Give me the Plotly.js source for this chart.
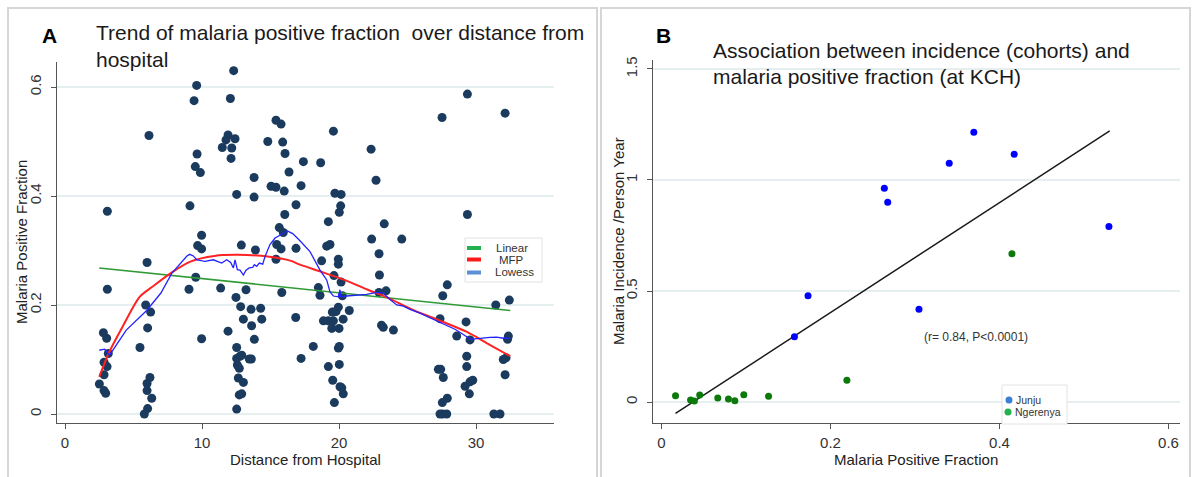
<!DOCTYPE html>
<html>
<head>
<meta charset="utf-8">
<script src="https://cdn.plot.ly/plotly-3.0.1.min.js"></script>
<style>
  html, body { margin: 0; padding: 0; background: #ffffff; }
  #chart { width: 1192px; height: 477px; }
</style>
</head>
<body>
<div id="chart"></div>
<script>
// ---------- Panel A data: malaria positive fraction vs distance ----------
const distanceKm = [
  3.09,3.09,2.80,3.04,3.16,2.85,3.07,2.85,2.51,2.85,2.97,
  6.13,5.99,5.89,6.25,6.03,5.47,6.20,5.99,5.99,6.33,6.03,5.79,
  9.61,9.42,9.64,9.51,9.88,9.12,9.97,9.68,9.97,9.54,9.05,9.97,
  12.31,12.07,11.90,11.75,12.41,11.48,12.17,12.12,13.80,12.53,13.80,12.87,13.90,11.36,13.21,12.48,12.82,13.58,14.28,13.02,
  14.36,13.62,11.90,13.82,12.53,12.77,12.53,12.90,13.45,12.58,12.72,12.65,13.02,12.72,12.90,12.53,13.60,
  15.40,15.77,14.80,15.89,16.06,16.35,15.04,15.40,16.00,16.86,16.04,15.64,15.93,15.45,15.77,16.86,15.40,15.82,16.84,17.23,17.40,17.23,
  18.66,19.59,19.70,20.15,20.12,20.02,19.22,19.10,19.34,19.95,19.95,18.73,19.63,20.15,18.49,18.61,20.24,19.95,20.75,19.51,
  19.78,18.86,19.22,19.59,20.30,19.47,20.00,18.12,19.95,20.02,19.22,20.02,19.54,20.07,20.20,20.31,19.66,
  22.34,22.70,23.30,22.38,24.58,22.92,22.95,22.92,23.43,23.10,23.23,23.97,
  29.37,27.52,32.12,29.37,27.90,27.57,32.43,31.44,27.37,29.27,28.59,29.56,32.36,32.30,29.32,31.99,32.19,
  27.25,27.42,27.61,29.32,29.76,29.56,29.20,29.51,32.12,27.90,27.54,27.37,27.56,27.86,31.30,31.75
];
const positiveFraction = [
  0.372,0.229,0.149,0.139,0.111,0.095,0.087,0.072,0.055,0.043,0.038,
  0.511,0.278,0.200,0.187,0.158,0.122,0.067,0.056,0.043,0.029,0.010,0.000,
  0.603,0.575,0.477,0.454,0.443,0.382,0.328,0.309,0.303,0.251,0.229,0.138,
  0.630,0.579,0.512,0.503,0.505,0.489,0.488,0.469,0.434,0.403,0.398,0.310,0.301,0.231,0.228,0.214,0.197,0.192,0.194,0.174,
  0.174,0.162,0.152,0.137,0.122,0.106,0.102,0.108,0.101,0.090,0.084,0.066,0.058,0.035,0.037,0.009,0.101,
  0.539,0.532,0.500,0.499,0.478,0.444,0.418,0.416,0.409,0.384,0.366,0.342,0.333,0.311,0.303,0.304,0.284,0.223,0.177,0.102,0.463,0.419,
  0.461,0.519,0.405,0.403,0.382,0.370,0.353,0.308,0.311,0.284,0.275,0.281,0.254,0.242,0.232,0.218,0.217,0.196,0.190,0.187,
  0.188,0.171,0.171,0.171,0.174,0.157,0.157,0.124,0.121,0.124,0.087,0.091,0.062,0.050,0.048,0.037,0.021,
  0.486,0.429,0.349,0.321,0.321,0.294,0.255,0.223,0.226,0.163,0.159,0.154,
  0.587,0.544,0.552,0.366,0.237,0.217,0.209,0.200,0.175,0.169,0.143,0.136,0.143,0.137,0.106,0.100,0.103,
  0.082,0.082,0.067,0.087,0.062,0.059,0.051,0.037,0.072,0.029,0.021,0.000,0.000,0.000,0.000,0.000
];

// Fitted curves (panel A)
const linearX = [2.5, 32.5];
const linearY = [0.268, 0.190];
const mfpX = [2.5, 3.2, 4.2, 5.45, 6.4, 7.8, 9.2, 10.9, 12.6, 14.8, 16.5, 17.15, 18.7, 20.4, 22.1, 23.5, 25.4, 27.4, 29.3, 31.0, 32.5];
const mfpY = [0.068, 0.112, 0.160, 0.215, 0.234, 0.260, 0.280, 0.290, 0.292, 0.289, 0.281, 0.274, 0.261, 0.246, 0.228, 0.214, 0.191, 0.171, 0.151, 0.127, 0.106];
const lowessX = [2.5,2.9,3.1,3.25,4.47,5.96,7.0,7.79,8.9,9.1,9.37,9.6,10.2,10.83,11.44,11.8,12.09,12.29,12.41,12.58,12.77,13.02,13.21,13.45,13.7,13.82,13.99,14.18,14.43,14.6,14.96,15.33,15.69,16.23,16.62,17.15,17.88,18.61,19.1,19.34,19.59,19.95,20.07,20.12,20.56,22.02,22.75,23.23,23.72,24.21,24.7,25.18,25.9,27.37,28.5,29.32,29.56,31.02,31.5,32.0,32.48];
const lowessY = [0.117,0.119,0.112,0.108,0.154,0.190,0.222,0.258,0.290,0.293,0.290,0.283,0.280,0.283,0.277,0.283,0.278,0.268,0.283,0.265,0.264,0.255,0.264,0.268,0.269,0.274,0.271,0.277,0.275,0.289,0.311,0.323,0.328,0.336,0.331,0.318,0.298,0.264,0.246,0.224,0.2165,0.215,0.228,0.215,0.2165,0.2196,0.2233,0.222,0.210,0.200,0.198,0.192,0.185,0.1675,0.155,0.1419,0.137,0.1407,0.141,0.139,0.139];

// ---------- Panel B data: incidence vs positive fraction ----------
const junjuMPF = [0.2637,0.2677,0.3405,0.3696,0.4174,0.5295,0.1734,0.1573,0.3047];
const junjuIncidence = [0.963,0.900,1.075,1.215,1.116,0.790,0.479,0.294,0.418];
const ngerenyaMPF = [0.4147,0.2194,0.0166,0.0344,0.0389,0.0452,0.0666,0.0792,0.0868,0.0974,0.1267];
const ngerenyaIncidence = [0.668,0.098,0.028,0.009,0.005,0.031,0.018,0.014,0.006,0.033,0.026];
const fitX = [0.0166, 0.5304];
const fitY = [-0.051, 1.221];

// Tick labels
const ticksA_x = [0, 10, 20, 30];
const ticksA_y = [0, 0.2, 0.4, 0.6];
const ticksB_x = [0, 0.2, 0.4, 0.6];
const ticksB_y = [0, 0.5, 1, 1.5];

// ---------- Layout helpers (pixel -> paper) ----------
const W = 1192, H = 477;
const PX = x => x / W;
const PY = y => 1 - y / H;

const FONT = 'Liberation Sans, Arial, sans-serif';
const AXC = '#555555';
const GRID = '#e6efef';

const traces = [
  { type: 'scatter', mode: 'markers', x: distanceKm, y: positiveFraction, xaxis: 'x', yaxis: 'y',
    marker: { size: 9, color: '#1b3b5e' }, hoverinfo: 'skip' },
  { type: 'scatter', mode: 'lines', x: linearX, y: linearY, xaxis: 'x', yaxis: 'y',
    line: { color: '#2f9a36', width: 1.6 }, hoverinfo: 'skip' },
  { type: 'scatter', mode: 'lines', x: mfpX, y: mfpY, xaxis: 'x', yaxis: 'y',
    line: { color: '#ff2222', width: 2, shape: 'spline', smoothing: 0.8 }, hoverinfo: 'skip' },
  { type: 'scatter', mode: 'lines', x: lowessX, y: lowessY, xaxis: 'x', yaxis: 'y',
    line: { color: '#2323ff', width: 1.3 }, hoverinfo: 'skip' },
  { type: 'scatter', mode: 'lines', x: fitX, y: fitY, xaxis: 'x2', yaxis: 'y2',
    line: { color: '#1a1a1a', width: 1.5 }, hoverinfo: 'skip' },
  { type: 'scatter', mode: 'markers', x: junjuMPF, y: junjuIncidence, xaxis: 'x2', yaxis: 'y2',
    marker: { size: 7, color: '#0000ff' }, hoverinfo: 'skip' },
  { type: 'scatter', mode: 'markers', x: ngerenyaMPF, y: ngerenyaIncidence, xaxis: 'x2', yaxis: 'y2',
    marker: { size: 7, color: '#0b7a0b' }, hoverinfo: 'skip' }
];

function xAxis(domain, range, tickvals, anchor) {
  return {
    domain, range, tickvals, anchor,
    showline: true, linecolor: AXC, linewidth: 1.3,
    ticks: 'outside', ticklen: 5, tickcolor: AXC, tickwidth: 1,
    ticklabelstandoff: 1,
    showgrid: false, zeroline: false, fixedrange: true,
    tickfont: { family: FONT, size: 15, color: '#333333' }
  };
}
function yAxis(domain, range, tickvals, anchor) {
  return {
    domain, range, tickvals, anchor,
    showline: true, linecolor: AXC, linewidth: 1.3,
    ticks: 'outside', ticklen: 5, tickcolor: AXC, tickwidth: 1,
    tickangle: -90, ticklabelstandoff: 4,
    showgrid: true, gridcolor: GRID, gridwidth: 1.2,
    zeroline: false, fixedrange: true,
    tickfont: { family: FONT, size: 15, color: '#333333' }
  };
}

const shapes = [
  // panel frames
  { type: 'rect', xref: 'paper', yref: 'paper', x0: PX(8), x1: PX(597), y0: PY(490), y1: PY(8),
    line: { color: '#d6d6d6', width: 2 }, fillcolor: 'rgba(0,0,0,0)', layer: 'below' },
  { type: 'rect', xref: 'paper', yref: 'paper', x0: PX(601), x1: PX(1190), y0: PY(490), y1: PY(8),
    line: { color: '#d6d6d6', width: 2 }, fillcolor: 'rgba(0,0,0,0)', layer: 'below' },
  // legend A box and keys
  { type: 'rect', xref: 'paper', yref: 'paper', x0: PX(465), x1: PX(542), y0: PY(282), y1: PY(238),
    line: { color: '#e2e2e2', width: 1 }, fillcolor: '#ffffff' },
  { type: 'line', xref: 'paper', yref: 'paper', x0: PX(467), x1: PX(481), y0: PY(248), y1: PY(248),
    line: { color: '#22b14c', width: 4 } },
  { type: 'line', xref: 'paper', yref: 'paper', x0: PX(467), x1: PX(481), y0: PY(259.5), y1: PY(259.5),
    line: { color: '#ff1a1a', width: 4 } },
  { type: 'line', xref: 'paper', yref: 'paper', x0: PX(467), x1: PX(481), y0: PY(272.5), y1: PY(272.5),
    line: { color: '#5b8fd6', width: 4 } },
  // legend B box and keys
  { type: 'rect', xref: 'paper', yref: 'paper', x0: PX(1002), x1: PX(1067), y0: PY(424), y1: PY(385),
    line: { color: '#e2e2e2', width: 1 }, fillcolor: '#ffffff' },
  { type: 'circle', xref: 'paper', yref: 'paper', x0: PX(1005.5), x1: PX(1012.5), y0: PY(403.5), y1: PY(396.5),
    line: { width: 0 }, fillcolor: '#3a7fd5' },
  { type: 'circle', xref: 'paper', yref: 'paper', x0: PX(1004.5), x1: PX(1011.5), y0: PY(415.5), y1: PY(408.5),
    line: { width: 0 }, fillcolor: '#22b24c' }
];

function ann(text, x, y, size, opts) {
  return Object.assign({
    text, x: PX(x), y: PY(y), xref: 'paper', yref: 'paper', showarrow: false,
    xanchor: 'left', yanchor: 'middle',
    font: { family: FONT, size, color: '#1a1a1a' }
  }, opts || {});
}
const small = (sz) => ({ family: FONT, size: sz, color: '#333333' });

const annotations = [
  ann('<b>A</b>', 49, 35, 21, { xanchor: 'center', font: { family: FONT, size: 21, color: '#000000' } }),
  ann('Trend of malaria positive fraction  over distance from', 94, 33, 21),
  ann('hospital', 94, 59, 21),
  ann('<b>B</b>', 663, 35, 21, { xanchor: 'center', font: { family: FONT, size: 21, color: '#000000' } }),
  ann('Association between incidence (cohorts) and', 711, 50, 21),
  ann('malaria positive fraction (at KCH)', 711, 76, 21),
  // axis titles
  ann('Distance from Hospital', 305.5, 459, 15, { xanchor: 'center', borderpad: 0, font: { family: FONT, size: 15, color: '#222222' } }),
  ann('Malaria Positive Fraction', 22, 242, 15, { xanchor: 'center', textangle: -90, font: { family: FONT, size: 15, color: '#222222' } }),
  ann('Malaria Positive Fraction', 916, 459, 15, { xanchor: 'center', borderpad: 0, font: { family: FONT, size: 15, color: '#222222' } }),
  ann('Malaria Incidence /Person Year', 618, 241, 15, { xanchor: 'center', textangle: -90, font: { family: FONT, size: 15, color: '#222222' } }),
  // note and legend texts
  ann('(r= 0.84, P<0.0001)', 976, 337, 12, { xanchor: 'center', font: small(12) }),
  ann('Linear', 512, 247.5, 11.5, { xanchor: 'center', font: small(11.5) }),
  ann('MFP', 511, 259.5, 11.5, { xanchor: 'center', font: small(11.5) }),
  ann('Lowess', 514, 272, 11.5, { xanchor: 'center', font: small(11.5) }),
  ann('Junju', 1014, 399.5, 10.5, { font: small(10.5) }),
  ann('Ngerenya', 1013, 412, 10.5, { font: small(10.5) })
];

const layout = {
  width: W, height: H,
  margin: { l: 0, r: 0, t: 0, b: 0 },
  paper_bgcolor: '#ffffff', plot_bgcolor: '#ffffff',
  showlegend: false,
  font: { family: FONT, color: '#333333' },
  xaxis: xAxis([PX(57), PX(554)], [-0.584, 35.69], ticksA_x, 'y'),
  yaxis: yAxis([PY(423), PY(62)], [-0.0165, 0.6459], ticksA_y, 'x'),
  xaxis2: xAxis([PX(653), PX(1180)], [-0.01006, 0.6136], ticksB_x, 'y2'),
  yaxis2: yAxis([PY(423), PY(60)], [-0.0946, 1.5405], ticksB_y, 'x2'),
  shapes, annotations
};

Plotly.newPlot('chart', traces, layout, { staticPlot: true, displayModeBar: false });
</script>
</body>
</html>
